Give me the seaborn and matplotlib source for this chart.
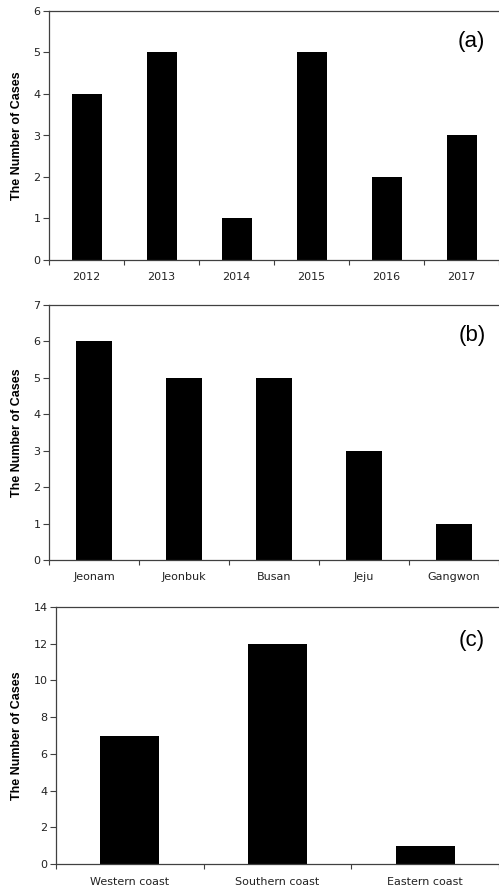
import matplotlib
matplotlib.use("Agg")
import matplotlib.pyplot as plt
import seaborn as sns
import numpy as np

years = ["2012", "2013", "2014", "2015", "2016", "2017"]
cases_by_year = [4, 5, 1, 5, 2, 3]

regions = ["Jeonam", "Jeonbuk", "Busan", "Jeju", "Gangwon"]
cases_by_region = [6, 5, 5, 3, 1]

coasts = ["Western coast", "Southern coast", "Eastern coast"]
cases_by_coast = [7, 12, 1]

sns.set_style("white")
plt.rcParams["font.family"] = ["DejaVu Sans"]

W, H = 499, 888
fig = plt.figure(figsize=(W / 100, H / 100), dpi=100)

spine_col = "#404040"
text_col = "#222222"

panels = [
    (years, cases_by_year, np.arange(0, 7, 1), (0, 6), (49, 11, 260), "(a)", (471, 42)),
    (regions, cases_by_region, np.arange(0, 8, 1), (0, 7), (49, 305, 560), "(b)", (472, 335)),
    (coasts, cases_by_coast, np.arange(0, 15, 2), (0, 14), (56, 607, 864), "(c)", (472, 640)),
]

for cats, vals, yt, ylim, (lx, ty, by), tag, (tx, tyy) in panels:
    ax = fig.add_axes([lx / W, 1 - by / H, 1 - lx / W, (by - ty) / H])
    sns.barplot(x=cats, y=vals, color="black", saturation=1, width=0.4,
                linewidth=0, ax=ax)
    n = len(cats)
    ax.set_xlim(-0.5, n - 0.5)
    ax.set_ylim(*ylim)
    ax.set_yticks(yt)
    ax.set_xticks(np.arange(n))
    ax.set_xticklabels(cats)
    ax.set_xticks(np.arange(n + 1) - 0.5, minor=True)
    ax.tick_params(axis="x", which="major", length=0, pad=9, labelsize=8,
                   labelcolor=text_col)
    ax.tick_params(axis="x", which="minor", length=3.5, width=0.8,
                   color=spine_col, direction="out", bottom=True)
    ax.tick_params(axis="y", length=4, width=0.8, color=spine_col,
                   direction="out", left=True, pad=2, labelsize=8,
                   labelcolor=text_col)
    for s in ["left", "bottom", "top"]:
        ax.spines[s].set_visible(True)
        ax.spines[s].set_color(spine_col)
        ax.spines[s].set_linewidth(0.9)
    ax.spines["right"].set_visible(False)
    ax.grid(False)
    ax.set_xlabel("")
    ax.set_ylabel("The Number of Cases", fontsize=9, fontweight="bold",
                  family=["Liberation Sans", "DejaVu Sans"], color="black")
    axw = W - lx
    ax.yaxis.set_label_coords((23 - lx) / axw, 0.5)
    ax.text((tx - lx) / axw, (by - tyy) / (by - ty), tag, transform=ax.transAxes,
            ha="center", va="center", fontsize=16,
            family=["Liberation Sans", "DejaVu Sans"], color="black")

fig.savefig("out.png", dpi=100)
